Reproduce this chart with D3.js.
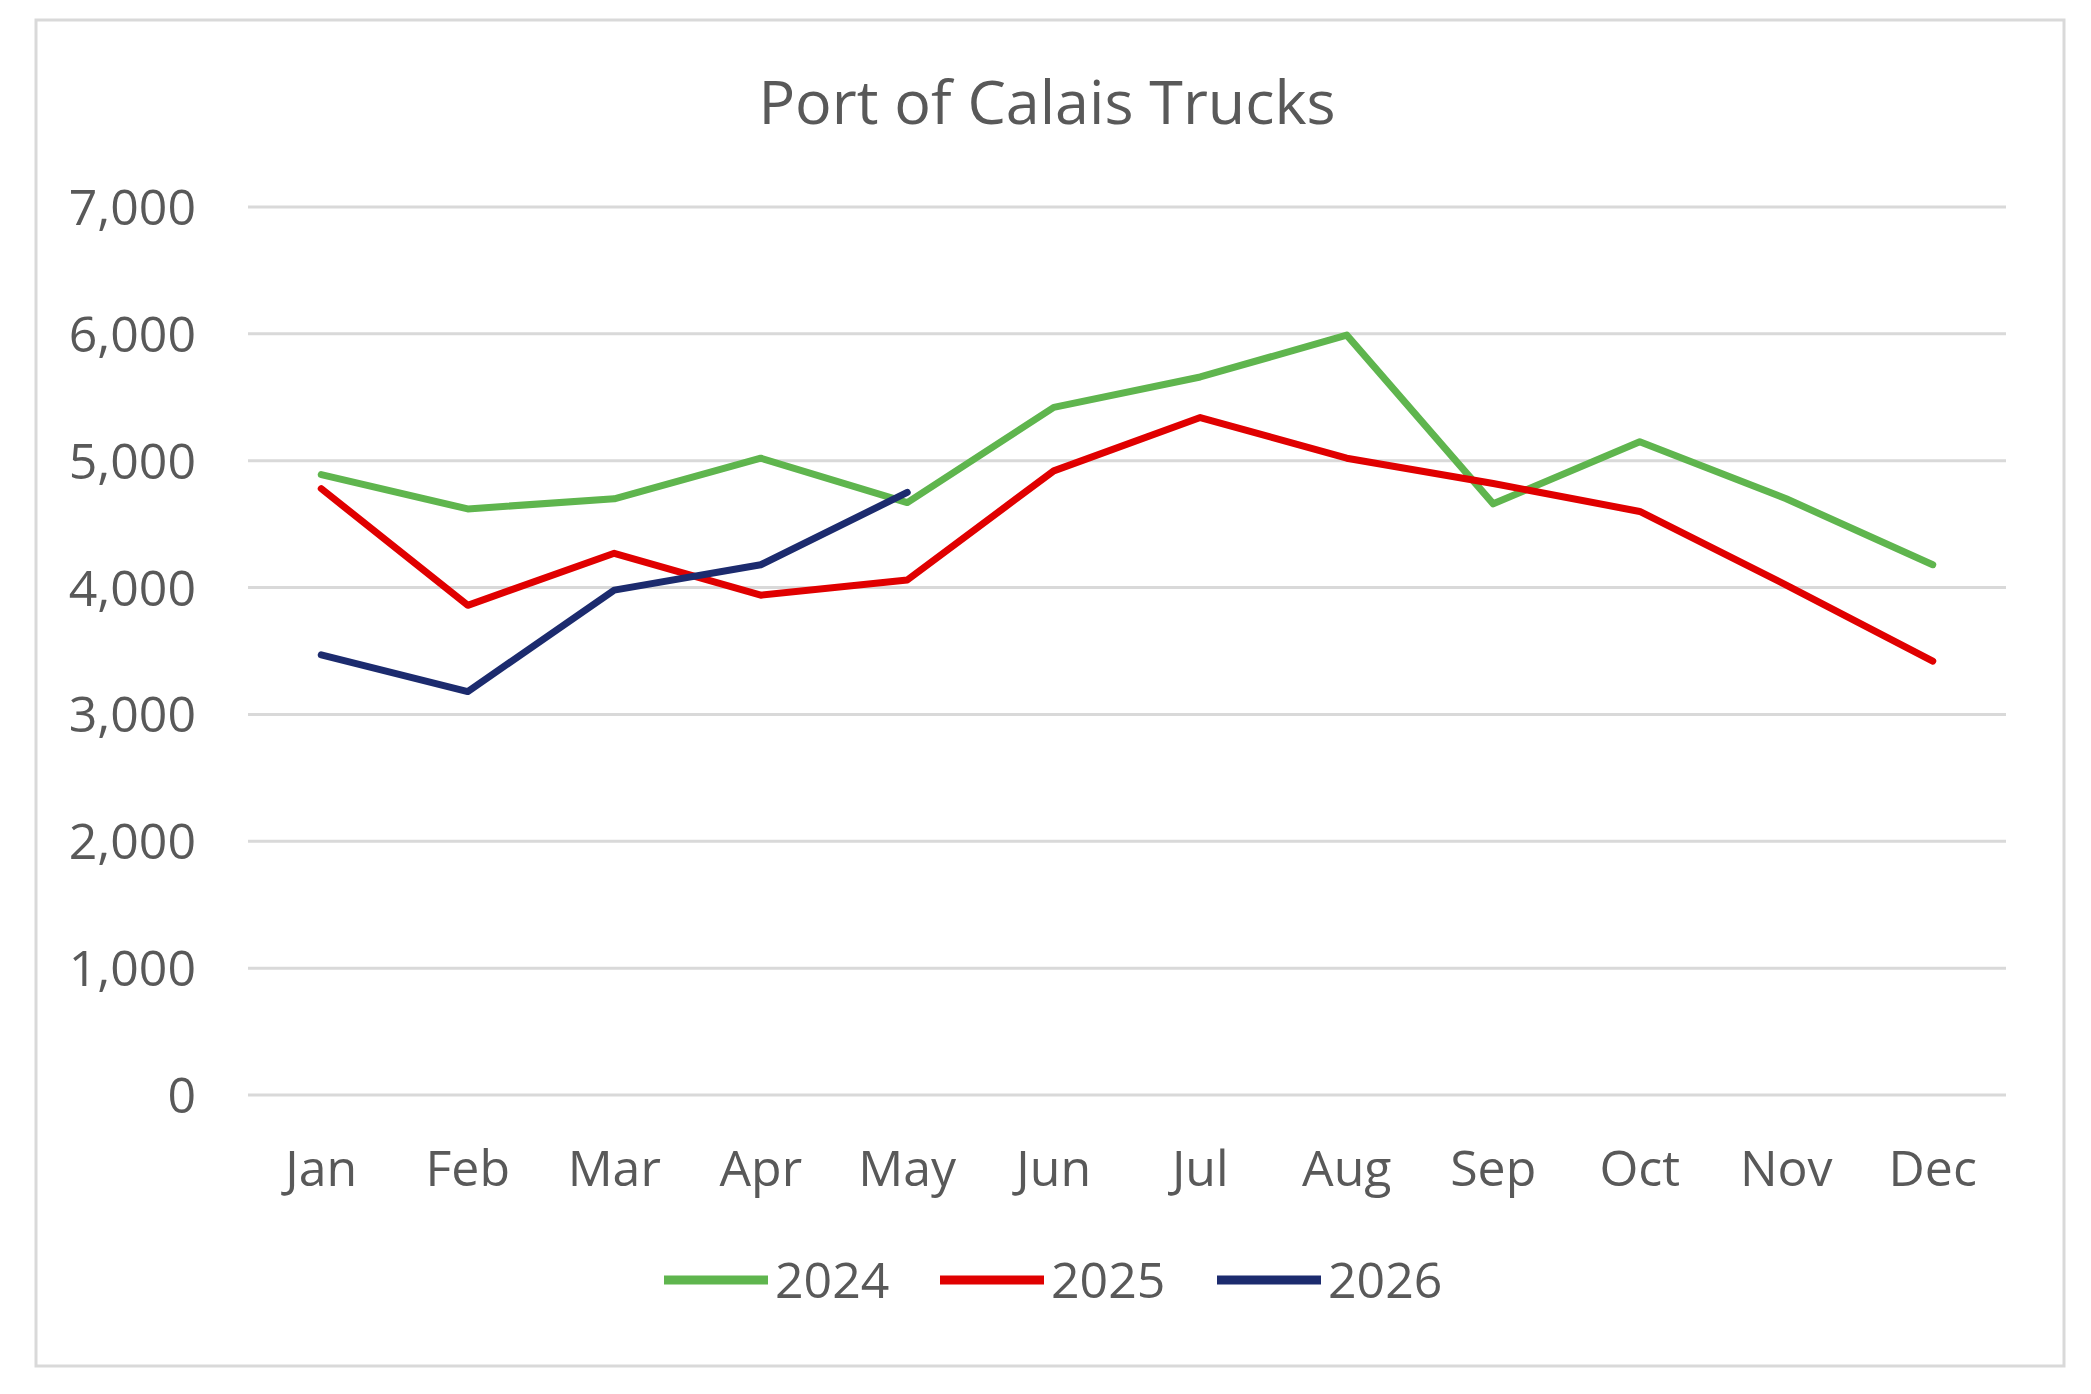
<!DOCTYPE html>
<html>
<head>
<meta charset="utf-8">
<title>Port of Calais Trucks</title>
<script src="https://cdn.jsdelivr.net/npm/d3@7"></script>
<style>
  body { margin: 0; background: #fff; }
  text { font-family: "Open Sans", sans-serif; fill: #595959; }
</style>
</head>
<body>
<div id="main"></div>
<script>
const title = 'Port of Calais Trucks';
const months = ['Jan','Feb','Mar','Apr','May','Jun','Jul','Aug','Sep','Oct','Nov','Dec'];
const yTicks = [0, 1000, 2000, 3000, 4000, 5000, 6000, 7000];

const years = ['2024', '2025', '2026'];
const trucks2024 = [4890, 4620, 4700, 5020, 4670, 5420, 5660, 5990, 4660, 5150, 4700, 4180];
const trucks2025 = [4780, 3860, 4270, 3940, 4060, 4920, 5340, 5020, 4820, 4600, 4020, 3420];
const trucks2026 = [3470, 3180, 3980, 4180, 4750];
const colors = ['#5fb54e', '#e00000', '#1c2b6e'];

const W = 2091, H = 1394;
const margin = {top: 207, right: 85, bottom: 299, left: 248};

const svg = d3.select('#main')
              .append('svg')
              .attr('width', W)
              .attr('height', H);

// chart frame
svg.append('rect')
   .attr('x', 36).attr('y', 20)
   .attr('width', 2028).attr('height', 1346)
   .attr('fill', '#fff')
   .attr('stroke', '#d9d9d9')
   .attr('stroke-width', 3);

svg.append('text')
   .attr('x', 1047)
   .attr('y', 124)
   .attr('text-anchor', 'middle')
   .attr('font-size', '61px')
   .text(title);

const x = d3.scaleBand()
            .domain(months)
            .range([margin.left, W - margin.right]);

const y = d3.scaleLinear()
            .domain([0, 7000])
            .range([H - margin.bottom, margin.top]);

// gridlines
svg.append('g')
   .selectAll('line')
   .data(yTicks)
   .enter()
   .append('line')
   .attr('x1', margin.left)
   .attr('x2', W - margin.right)
   .attr('y1', (d) => y(d))
   .attr('y2', (d) => y(d))
   .attr('stroke', '#d9d9d9')
   .attr('stroke-width', 3);

// y labels
svg.append('g')
   .selectAll('text')
   .data(yTicks)
   .enter()
   .append('text')
   .attr('x', 196)
   .attr('y', (d) => y(d))
   .attr('dy', '0.36em')
   .attr('text-anchor', 'end')
   .attr('font-size', '50px')
   .text((d) => d3.format(',')(d));

// x labels
svg.append('g')
   .selectAll('text')
   .data(months)
   .enter()
   .append('text')
   .attr('x', (d) => x(d) + x.bandwidth() / 2)
   .attr('y', 1186)
   .attr('text-anchor', 'middle')
   .attr('font-size', '50px')
   .text((d) => d);

const series = [trucks2024, trucks2025, trucks2026];

const line = d3.line()
               .x((d, i) => x(months[i]) + x.bandwidth() / 2)
               .y((d) => y(d));

svg.append('g')
   .selectAll('path')
   .data(series)
   .enter()
   .append('path')
   .attr('d', (d) => line(d))
   .attr('fill', 'none')
   .attr('stroke', (d, i) => colors[i])
   .attr('stroke-width', 7)
   .attr('stroke-linejoin', 'round')
   .attr('stroke-linecap', 'round');

// legend
const legendX = [664, 940, 1217];
const legend = svg.append('g')
                  .selectAll('g')
                  .data(years)
                  .enter()
                  .append('g')
                  .attr('transform', (d, i) => 'translate(' + legendX[i] + ',1280)');

legend.append('line')
      .attr('x1', 0).attr('x2', 104)
      .attr('y1', 0).attr('y2', 0)
      .attr('stroke', (d, i) => colors[i])
      .attr('stroke-width', 9);

legend.append('text')
      .attr('x', 111)
      .attr('y', 0)
      .attr('dy', '0.36em')
      .attr('font-size', '50px')
      .text((d) => d);
</script>
</body>
</html>
